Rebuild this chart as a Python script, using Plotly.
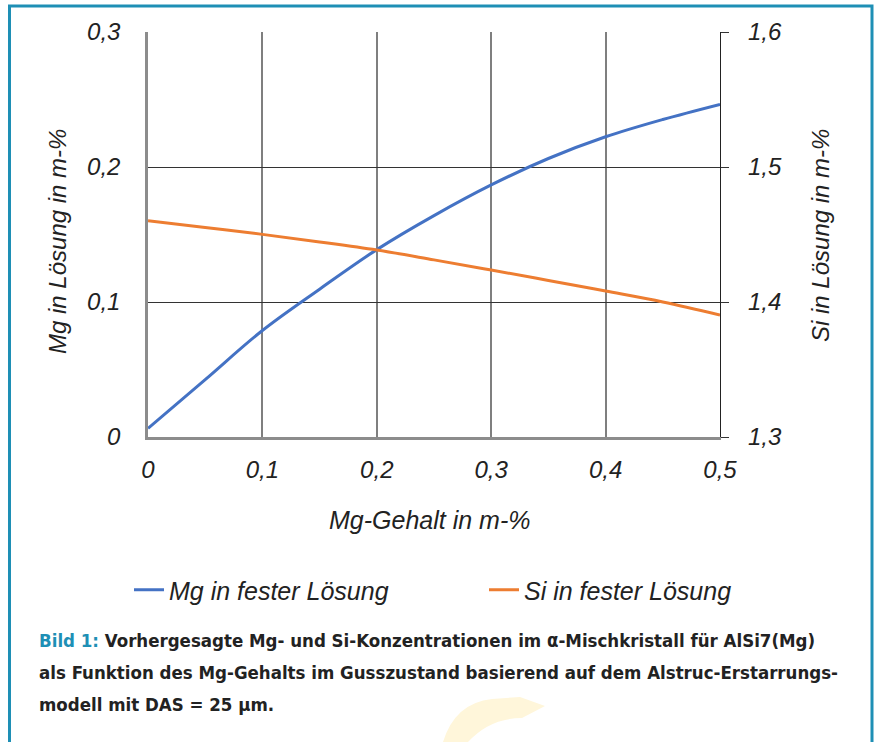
import plotly.graph_objects as go

# ---- data ----
mg_gehalt = [0.0, 0.05, 0.10, 0.15, 0.20, 0.25, 0.30, 0.35, 0.40, 0.45, 0.50]
mg_loesung = [0.0064, 0.0425, 0.0789, 0.1095, 0.1388, 0.1640, 0.1867, 0.2063, 0.2224, 0.2352, 0.2464]
si_loesung = [1.4602, 1.4552, 1.4501, 1.4445, 1.4385, 1.4312, 1.4237, 1.4160, 1.4081, 1.4000, 1.3904]

x_tickvals = [0, 0.1, 0.2, 0.3, 0.4, 0.5]
x_ticktext = ["0", "0,1", "0,2", "0,3", "0,4", "0,5"]
y1_tickvals = [0, 0.1, 0.2, 0.3]
y1_ticktext = ["0", "0,1", "0,2", "0,3"]
y2_tickvals = [1.3, 1.4, 1.5, 1.6]
y2_ticktext = ["1,3", "1,4", "1,5", "1,6"]

W, H = 877, 742
L, R, T, B = 148, 720, 32, 437  # plot area in pixels

def px(x):
    return (x - L) / (R - L)

def py(y):
    return (B - y) / (B - T)

FONT = "Liberation Sans, Arial, sans-serif"
CAP_FONT = "DejaVu Sans Condensed, DejaVu Sans, sans-serif"
TEAL = "#1e8fb5"
TXT = "#222222"
FS = 24

fig = go.Figure()
fig.add_trace(go.Scatter(
    x=mg_gehalt, y=mg_loesung, mode="lines", name="Mg in fester Lösung",
    line=dict(color="#4472c4", width=3, shape="spline"), yaxis="y", legend="legend"))
fig.add_trace(go.Scatter(
    x=mg_gehalt, y=si_loesung, mode="lines", name="Si in fester Lösung",
    line=dict(color="#ed7d31", width=3, shape="spline"), yaxis="y2", legend="legend2"))

tickfont = dict(family=FONT, size=FS, color=TXT, style="italic")
legfont = dict(family=FONT, size=25, color=TXT, style="italic")

fig.update_layout(
    width=W, height=H,
    margin=dict(l=L, r=W - R, t=T, b=H - B),
    paper_bgcolor="white", plot_bgcolor="white",
    showlegend=True,
    legend=dict(orientation="h", xref="container", yref="container",
                x=129 / W, y=1 - 590 / H, xanchor="left", yanchor="middle",
                font=legfont, bgcolor="rgba(0,0,0,0)"),
    legend2=dict(orientation="h", xref="container", yref="container",
                 x=484 / W, y=1 - 590 / H, xanchor="left", yanchor="middle",
                 font=legfont, bgcolor="rgba(0,0,0,0)"),
    xaxis=dict(range=[0, 0.5], tickvals=x_tickvals, ticktext=x_ticktext,
               showgrid=True, gridcolor="#7f7f7f", gridwidth=1.5,
               showline=True, linecolor="#8c8c8c", linewidth=2.5,
               zeroline=False, ticks="", tickfont=tickfont,
               ticklabelstandoff=9),
    yaxis=dict(range=[0, 0.3], tickvals=y1_tickvals, ticktext=y1_ticktext,
               showgrid=True, gridcolor="#333333", gridwidth=1.2,
               showline=True, linecolor="#8c8c8c", linewidth=2.5,
               zeroline=False, ticks="", tickfont=tickfont,
               ticklabelstandoff=20),
    yaxis2=dict(range=[1.3, 1.6], tickvals=y2_tickvals, ticktext=y2_ticktext,
                overlaying="y", side="right", showgrid=False,
                showline=True, linecolor="#222222", linewidth=1.2,
                zeroline=False, ticks="outside", ticklen=8, tickcolor="#333333",
                tickwidth=1.2, tickfont=tickfont, ticklabelstandoff=14),
)

ann = []
ann.append(dict(text="Mg-Gehalt in m-%", x=px(429), y=py(520), xref="paper", yref="paper",
                showarrow=False, font=dict(family=FONT, size=25, color=TXT, style="italic"),
                xanchor="center", yanchor="middle"))
ann.append(dict(text="Mg in Lösung in m-%", x=px(57), y=py(242), xref="paper", yref="paper",
                showarrow=False, textangle=-90,
                font=dict(family=FONT, size=FS, color=TXT, style="italic"),
                xanchor="center", yanchor="middle"))
ann.append(dict(text="Si in Lösung in m-%", x=px(820), y=py(236), xref="paper", yref="paper",
                showarrow=False, textangle=-90,
                font=dict(family=FONT, size=FS, color=TXT, style="italic"),
                xanchor="center", yanchor="middle"))

cap_lines = [
    "<span style='color:%s'>Bild 1:</span> Vorhergesagte Mg- und Si-Konzentrationen im α-Mischkristall für AlSi7(Mg)" % TEAL,
    "als Funktion des Mg-Gehalts im Gusszustand basierend auf dem Alstruc-Erstarrungs-",
    "modell mit DAS = 25 µm.",
]
for i, line in enumerate(cap_lines):
    ann.append(dict(text=line, x=px(37), y=py(640 + 32 * i), xref="paper", yref="paper",
                    showarrow=False, xanchor="left", yanchor="middle",
                    font=dict(family=CAP_FONT, size=18.5, color="#222222", weight="bold")))
fig.update_layout(annotations=ann)

# decorative watermark and frame
wm = "M {a},{b} Q {c},{d} {e},{f} L {g},{h} L {i},{j} L {k},{l} Q {m},{n} {o},{p} Z".format(
    a=px(443), b=py(742), c=px(455), d=py(703), e=px(492), f=py(699),
    g=px(520), h=py(697), i=px(545), j=py(706), k=px(522), l=py(718),
    m=px(490), n=py(718), o=px(468), p=py(742))
fig.add_shape(type="path", path=wm, xref="paper", yref="paper",
              fillcolor="#fff6da", line=dict(width=0), layer="below")
fig.add_shape(type="rect", xref="paper", yref="paper",
              x0=px(9.5), x1=px(872), y0=py(6), y1=py(770),
              line=dict(color=TEAL, width=3), fillcolor="rgba(0,0,0,0)", layer="above")

fig.write_html("out.html", config={"displayModeBar": False},
               post_script="document.body.style.margin='0';"
                           "document.documentElement.style.overflow='hidden';"
                           "document.body.style.overflow='hidden';")
